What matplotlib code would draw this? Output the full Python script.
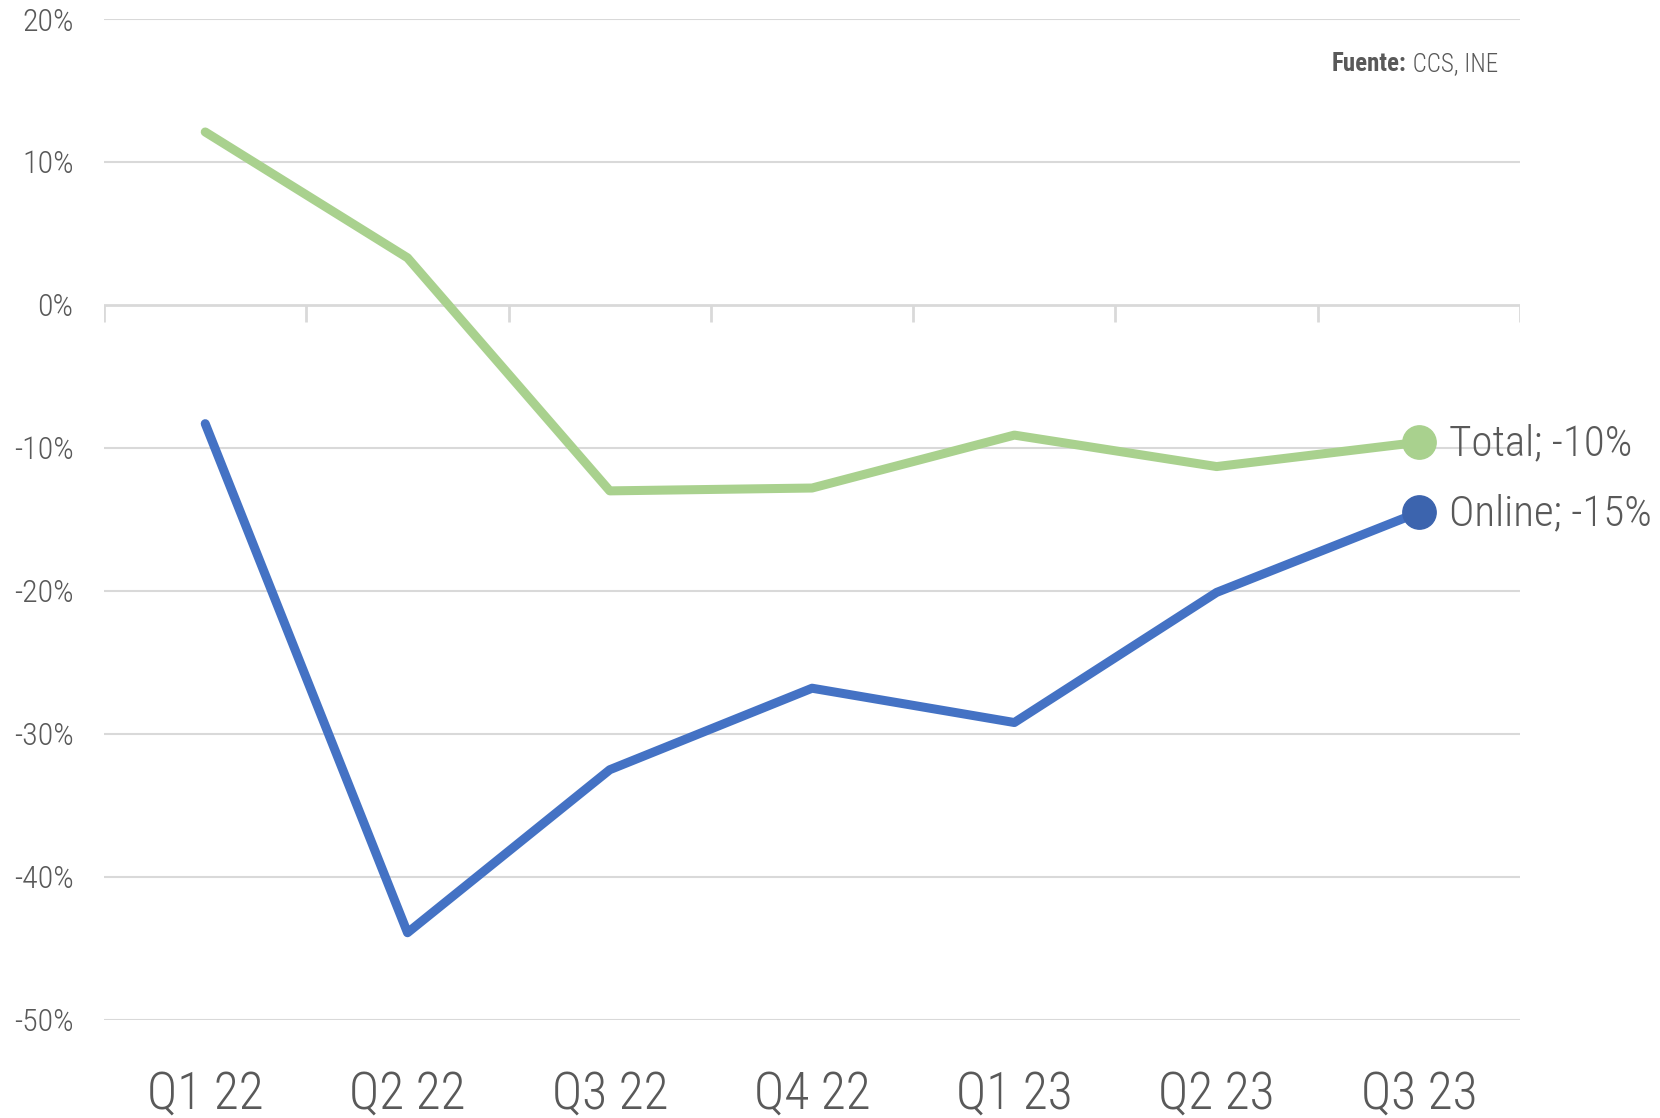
import matplotlib.pyplot as plt
import numpy as np
from matplotlib import font_manager

names = {f.name for f in font_manager.fontManager.ttflist}
family = 'Roboto Condensed' if 'Roboto Condensed' in names else 'DejaVu Sans'
plt.rcParams['font.family'] = [family, 'DejaVu Sans']
plt.rcParams['font.weight'] = 'light'

quarters = ['Q1 22', 'Q2 22', 'Q3 22', 'Q4 22', 'Q1 23', 'Q2 23', 'Q3 23']
total = [12.1, 3.3, -13.0, -12.8, -9.1, -11.3, -9.6]
online = [-8.3, -43.9, -32.5, -26.8, -29.2, -20.1, -14.5]
end_labels = ['Total; -10%', 'Online; -15%']
yticks = [20, 10, 0, -10, -20, -30, -40, -50]

green = '#A9D18E'
blue = '#4472C4'
blue_dot = '#3C64AE'
txt = '#595959'
grid = '#D9D9D9'

fig = plt.figure(figsize=(16.6, 11.18), dpi=100)
ax = fig.add_axes([0.0627, 0.0877, 0.853, 0.8953])

x = np.arange(1, len(quarters) + 1)
ax.plot(x, total, color=green, lw=6.5, solid_capstyle='round', solid_joinstyle='round', zorder=3)
ax.plot(x, online, color=blue, lw=6.5, solid_capstyle='round', solid_joinstyle='round', zorder=3)
ax.plot(x[-1], total[-1], 'o', ms=24, color=green, zorder=4)
ax.plot(x[-1], online[-1], 'o', ms=24, color=blue_dot, zorder=4)

for lab, y in zip(end_labels, [total[-1], online[-1]]):
    ax.annotate(lab, (x[-1], y), xytext=(22, -1), textcoords='offset points',
                va='center', ha='left', fontsize=31, color=txt, annotation_clip=False)

ax.set_xlim(0.5, len(quarters) + 0.5)
ax.set_ylim(-50, 20)
ax.set_yticks(yticks)
ax.set_yticklabels(['{}%'.format(v) for v in yticks])
for v in yticks:
    if v != 0:
        ax.axhline(v, color=grid, lw=1.5, zorder=1)
ax.axhline(0, color=grid, lw=2, zorder=2)
# category separators hanging from the zero line
ax.vlines(np.arange(0.5, len(quarters) + 1), -1.2, 0, color=grid, lw=2, zorder=2)

ax.set_xticks(x)
ax.set_xticklabels(quarters)
ax.tick_params(axis='x', length=0, labelsize=37, labelcolor=txt, pad=36)
ax.tick_params(axis='y', length=0, labelsize=23, labelcolor=txt, pad=22)
for s in ax.spines.values():
    s.set_visible(False)

src = fig.text(1332 / 1660, 1 - 64 / 1118, 'Fuente:', ha='left', va='center',
               fontsize=18, color=txt, fontweight='bold')
ax.annotate(' CCS, INE', xy=(1, 0.5), xycoords=src, va='center', ha='left',
            fontsize=18, color=txt)

fig.savefig('out.png', dpi=100, facecolor='white')
